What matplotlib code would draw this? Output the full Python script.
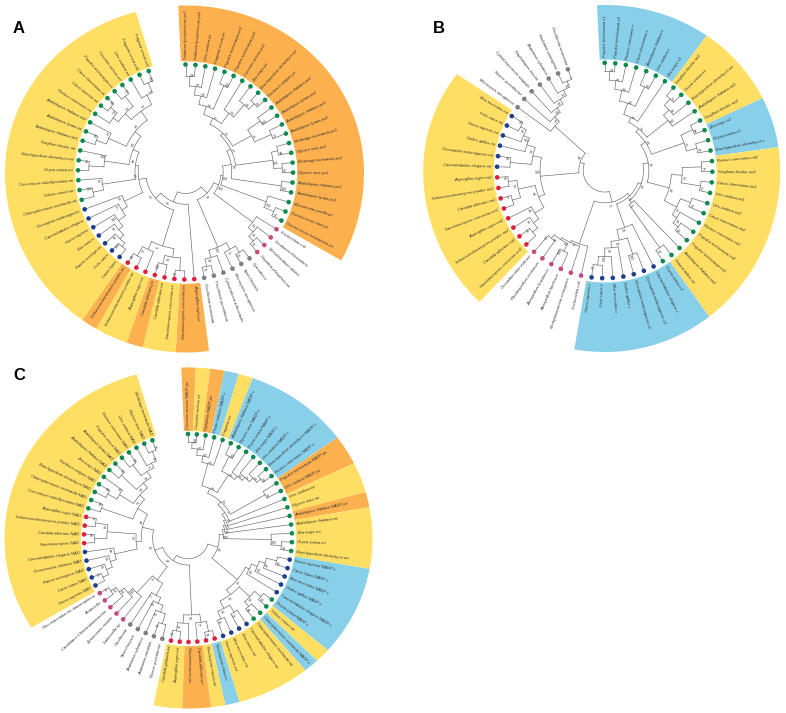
import numpy as np
import matplotlib
matplotlib.use('Agg')
import matplotlib.pyplot as plt

plt.rcParams['font.family'] = ['Liberation Sans', 'DejaVu Sans']

W, H = 786, 713
x = 0  # leaf placeholder in the trees

# Panel A
a_names = ['Solanum lycopersicum px1', 'Solanum lycopersicum px2', 'Vitis vinifera px', 'Fragaria vesca px',
           'Populus trichocarpa px1', 'Populus trichocarpa px2', 'Cucumis sativus px1', 'Zea mays px',
           'Brachypodium distachyon px', 'Hordeum vulgare px', 'Arabidopsis thaliana px2', 'Arabidopsis lyrata px2',
           'Arabidopsis thaliana px3', 'Arabidopsis lyrata px3', 'Medicago truncatula px1', 'Glycine max px1',
           'Medicago truncatula px2', 'Glycine max px2', 'Arabidopsis thaliana px1', 'Arabidopsis lyrata px1',
           'Micromonas pusilla px', 'Ostreococcus tauri px', 'Ostreococcus lucimarinus px',
           'Escherichia coli', 'Geobacter thiooxidans', 'Mesorhizobium arbiter', 'Hepatica phosphoreum',
           'Cyanothece', 'Synechocystis', 'Microcystis aeruginosa', 'Cylindrotheca arthrocaulis',
           'Prochloron punctiforme', 'Oscillatoria acuminata',
           'Aspergillus niger px', 'Saccharomyces cerevisiae px', 'Saccharomyces cerevisiae mt', 'Candida albicans mt',
           'Candida albicans px', 'Aspergillus niger mt', 'Schizosaccharomyces pombe mt', 'Schizosaccharomyces pombe px',
           'Canis lupus', 'Felis catus', 'Rattus norvegicus', 'Bos taurus', 'Homo sapiens',
           'Caenorhabditis elegans', 'Drosophila melanogaster',
           'Chlamydomonas reinhardtii mt', 'Volvox carteri mt', 'Coccomyxa subellipsoidea mt', 'Oryza sativa mt',
           'Brachypodium distachyon mt', 'Sorghum bicolor mt', 'Arabidopsis thaliana mt1', 'Arabidopsis lyrata mt',
           'Arabidopsis thaliana mt2', 'Ricinus communis mt', 'Citrus sinensis mt', 'Citrus clementina mt',
           'Populus trichocarpa mt', 'Cucumis sativus mt', 'Vitis vinifera mt', 'Fragaria vesca mt2', 'Fragaria vesca mt1']
a_dots = [('green', 23), ('pink', 4), ('grey', 6), ('red', 8), ('blue', 7), ('green', 17)]
a_bands = [('orange', 23), (None, 10), ('orange', 2), ('yellow', 2), ('orange', 1), ('yellow', 2), ('orange', 1), ('yellow', 24)]
a_top = (.5, 75,
         (.56, 77, (.64, 41, (.72, 44, (.8, 83, (.89, 92, x, x), x), x), (.88, 100, x, x)), (.68, 38, x, (.83, 98, x, (.9, 93, x, x)))),
         (.7, 75, (.84, 100, x, x), (.87, 72, x, x)))
a_plants = (.35, 100,
            (.43, 94, (.47, 73, a_top, (.82, 100, (.88, 96, x, x), (.9, 45, x, x))), (.9, 100, x, x)),
            (.8, 100, x, (.9, 93, x, x)))
a_pink = (.78, 98, x, (.84, 41, x, (.9, 98, x, x)))
a_grey = (.76, 100, (.83, 31, (.9, 25, x, x), x), (.83, 90, x, (.9, 85, x, x)))
a_fungi = (.72, 8, (.8, 55, (.92, 52, x, x), (.88, 100, x, x)), (.8, 31, x, (.9, 68, x, x)))
a_blue = (.63, 98, (.69, 77, (.77, 100, (.82, 90, (.87, 50, (.91, 100, x, x), x), x), x), x), x)
a_mono = (.76, 100, (.9, 25, x, x), x)
a_arab = (.78, 75, (.88, 50, x, x), x)
a_rest = (.7, 36, (.78, 12, (.84, 52, x, (.92, 50, x, x)), (.9, 63, x, x)), (.8, 4, x, (.9, 100, x, x)))
a_green = (.47, 96, (.78, 95, (.88, 100, x, x), x), (.53, 62, a_mono, (.6, 56, a_arab, a_rest)))
a_tree = (.2, None,
          (.28, 98, (.33, 100, a_plants, a_pink), a_grey),
          (.3, 70, x, (.37, 91, a_fungi, (.44, 63, a_blue, a_green))))

# Panel B
b_names = ['Populus trichocarpa c1', 'Populus trichocarpa c2', 'Ricinus communis c', 'Citrus clementina c',
           'Arabidopsis thaliana c', 'Vitis vinifera c', 'Zea mays c1', 'Sorghum bicolor mt1', 'Oryza sativa mt',
           'Brachypodium distachyon mt', 'Arabidopsis thaliana mt1', 'Sorghum bicolor mt2', 'Zea mays c2',
           'Oryza sativa c1', 'Brachypodium distachyon c', 'Ricinus communis mt2', 'Sorghum bicolor mt3',
           'Citrus clementina mt1', 'Vitis vinifera mt1', 'Vitis vinifera mt2', 'Citrus clementina mt2',
           'Ricinus communis mt1', 'Populus trichocarpa mt2', 'Populus trichocarpa mt1', 'Arabidopsis thaliana mt2',
           'Setaria italica mt', 'Oryza sativa c3', 'Caenorhabditis elegans c', 'Drosophila melanogaster c2',
           'Drosophila melanogaster c1', 'Gallus gallus c', 'Mus musculus c', 'Felis catus c', 'Homo sapiens c',
           'Escherichia coli', 'Methylobacterium extorquens', 'Azospirillum lipoferum', 'Azospirillum brasilense',
           'Rhodospirillum centenum', 'Oceanibaculum indicum',
           'Saccharomyces cerevisiae mt2', 'Candida albicans mt2', 'Schizosaccharomyces pombe mt2', 'Aspergillus niger mt2',
           'Saccharomyces cerevisiae mt1', 'Candida albicans mt1', 'Schizosaccharomyces pombe mt1', 'Aspergillus niger mt1',
           'Caenorhabditis elegans mt', 'Drosophila melanogaster mt', 'Gallus gallus mt', 'Homo sapiens mt',
           'Felis catus mt', 'Mus musculus mt',
           'Microcystis aeruginosa', 'Nostoc punctiforme', 'Cylindrospermum stagnale', 'Raphidiopsis brookii',
           'Anabaena cylindrica', 'Nodularia spumigena', 'Oscillatoria acuminata']
b_dots = [('green', 27), ('blue', 7), ('pink', 6), ('red', 8), ('blue', 6), ('grey', 7)]
b_bands = [('sky', 7), ('yellow', 5), ('sky', 3), ('yellow', 11), ('sky', 8), (None, 6), ('yellow', 14), (None, 7)]
b_c1 = (.55, 61, (.66, 88, (.76, 44, (.84, 78, (.92, 86, x, x), x), x), (.86, 88, x, x)), x)
b_m1 = (.75, 100, (.82, 50, (.9, 97, x, x), x), x)
b_c2 = (.46, 24, (.5, 67, b_c1, b_m1), (.78, 73, (.9, 96, x, x), (.88, 98, x, x)))
b_m2 = (.62, 50, (.72, 47, (.9, 37, x, x), (.9, 35, x, x)), (.75, 31, (.85, 42, x, x), (.8, 50, x, (.86, 62, x, x))))
b_p1 = (.41, 50, b_c2, b_m2)
b_b1 = (.36, 86, b_p1, (.39, 15, x, (.88, 82, x, x)))
b_blue = (.56, 89, x, (.66, 82, (.82, 100, x, x), (.72, 88, x, (.8, 100, x, (.88, 71, x, x)))))
b_pink = (.72, 8, x, (.74, 34, x, (.76, 88, (.84, 100, x, x), (.8, 97, x, x))))
b_r2 = (.76, 50, (.82, 86, (.88, 55, x, x), x), x)
b_r1 = (.82, 22, (.9, 8, x, x), (.9, 40, x, x))
b_blue2 = (.68, 80, (.88, 60, x, x), (.76, 100, x, (.82, 98, x, (.88, 90, x, x))))
b_mt = (.6, 100, (.66, 96, b_r2, b_r1), b_blue2)
b_grey = (.62, 55, x, (.68, 84, x, (.73, 18, x, (.78, 12, x, (.84, 15, x, (.9, 7, x, x))))))
b_tree = (.2, None,
          (.3, 71, (.33, 70, b_b1, b_blue), b_pink),
          (.24, 60, b_mt, b_grey))

# Panel C
c_names = ['Cucumis sativus NADP px', 'Cucumis sativus cz', 'Vignathus NADP px', 'Pisum sativum NADP c',
           'Fragaria mt', 'Arabidopsis thaliana NADP c', 'Glycine max NADP c', 'Oryza sativa NADP c', 'Zea mays NADP c',
           'Vitis vinifera NADP c', 'Brachypodium distachyon NADP c', 'Ricinus communis NADP c',
           'Populus trichocarpa NADP px', 'Vitis vinifera NADP px', 'Vitis vinifera mt', 'Glycine max mt',
           'Arabidopsis thaliana NADP px', 'Arabidopsis thaliana mt', 'Zea mays mt', 'Oryza sativa mt',
           'Brachypodium distachyon mt', 'Homo sapiens NADP c', 'Canis lupus NADP c', 'Mus musculus NADP c',
           'Gallus gallus NADP c', 'Caenorhabditis elegans NADP c', 'Oryza sativa NADP c', 'Volvox carteri mt',
           'Chlamydomonas reinhardtii NADP c', 'Chlamydomonas reinhardtii mt', 'Caenorhabditis elegans mt',
           'Bos taurus mt', 'Mus musculus mt', 'Homo sapiens mt', 'Neurospora crassa c', 'Neurospora crassa mt',
           'Candida albicans px', 'Saccharomyces px', 'Aspergillus niger mt', 'Candida glabrata mt',
           'Nostoc punctiforme', 'Anabaena variabilis', 'Anabaena cylindrica', 'Synechocystis', 'Oscillatoria',
           'Salmonella sp', 'Zymomonas mobilis', 'Candidatus Chloracidobacterium', 'Acidocella',
           'Gluconacetobacter diazotrophicus',
           'Homo sapiens NAD', 'Canis lupus NAD', 'Rattus norvegicus NAD', 'Oreochromis niloticus NAD',
           'Caenorhabditis elegans NAD', 'Saccharomyces NAD', 'Candida albicans NAD',
           'Schizosaccharomyces pombe NAD', 'Aspergillus niger NAD',
           'Coccomyxa subellipsoidea NAD', 'Chlamydomonas reinhardtii NAD', 'Brachypodium distachyon NAD',
           'Hordeum vulgare NAD', 'Zea mays NAD', 'Arabidopsis thaliana NAD', 'Arabidopsis lyrata NAD',
           'Populus vesca NAD', 'Ricinus communis NAD', 'Vitis vinifera NAD', 'Glycine max NAD', 'Medicago truncatula NAD']
c_dots = [('green', 21), ('blue', 5), ('green', 4), ('blue', 4), ('red', 6), ('grey', 5), ('pink', 5),
          ('blue', 5), ('red', 4), ('green', 12)]
c_bands = [('orange', 1), ('yellow', 1), ('orange', 1), ('sky', 1), ('yellow', 1), ('sky', 7), ('orange', 2),
           ('yellow', 2), ('orange', 1), ('yellow', 4), ('sky', 6), ('yellow', 1), ('sky', 1), ('yellow', 5),
           ('sky', 1), ('yellow', 1), ('orange', 2), ('yellow', 2), (None, 10), ('yellow', 21)]
c_t1 = (.74, 25, (.8, 85, (.86, 75, (.92, 100, x, x), x), x), x)
c_t2 = (.72, 52, (.88, 100, x, x), (.76, 60, x, (.8, 97, x, (.85, 98, x, (.9, 45, x, x)))))
c_t = (.52, 21, c_t1, c_t2)
c_t8 = (.34, 100, (.36, 88, (.38, 71, (.4, 24, (.43, 7, (.47, 37, c_t, (.85, 87, x, x)), x), x), x), x),
        (.8, 100, x, (.9, 90, x, x)))
c_b = (.66, 90, (.72, 84, (.78, 50, (.88, 88, x, x), x), x), x)
c_gm = (.68, 20, (.82, 58, (.9, 94, x, x), (.88, 66, x, x)), (.76, 41, (.84, 30, x, x), (.84, 15, x, x)))
c_g = (.62, 45, c_b, c_gm)
c_reds = (.74, 58, (.82, 77, (.92, 58, x, x), x), (.82, 42, x, (.9, 40, x, x)))
c_grey = (.63, 17, (.69, 18, (.76, 15, (.86, 81, x, x), x), x), x)
c_pink = (.72, 100, x, (.78, 28, x, (.84, 14, x, (.9, 32, x, x))))
c_blue = (.72, 96, (.78, 33, (.84, 16, (.9, 13, x, x), x), x), x)
c_red2 = (.78, 48, (.9, 88, x, x), (.9, 75, x, x))
c_green = (.56, 97, (.88, 92, x, x),
           (.62, 55, (.78, 79, (.88, 94, x, x), x),
            (.68, 18, (.88, 93, x, x), (.75, 6, (.88, 94, x, x), (.8, 61, x, (.9, 78, x, x))))))
c_left = (.45, 66, (.5, 36, c_blue, c_red2), c_green)
c_tree = (.2, None,
          (.3, 88, c_t8, c_g),
          (.26, 58, c_reds, (.34, 85, (.5, 8, c_grey, c_pink), c_left)))

palette = {'orange': '#fcb04e', 'yellow': '#ffdf63', 'sky': '#88cfe9',
           'green': '#0e8a4c', 'blue': '#1d3f8f', 'red': '#de1f3e', 'pink': '#c64a82', 'grey': '#7f7f7f'}

# letter, centre x, centre y, leaf circle radius, rim radius (right, top, left, bottom), all in pixels
panels = [
    ('A', 185.5, 172.0, 107.5, (178, 167, 181, 180), a_names, a_dots, a_bands, a_tree, (13, 33)),
    ('B', 604.7, 170.5, 107.7, (175, 166, 182, 181), b_names, b_dots, b_bands, b_tree, (433, 33)),
    ('C', 188.0, 538.0, 104.0, (184, 171, 184, 170), c_names, c_dots, c_bands, c_tree, (13, 380)),
]

HALF = 195


def expand(runs):
    out = []
    for name, n in runs:
        out += [name] * n
    return out


def draw_tree(ax, node, thetas, counter):
    # leaf: next theta on the circle, node: arc over the children plus a radial stem to each
    if node == x:
        t = thetas[counter[0]]
        counter[0] += 1
        return t, 1.0
    r, support = node[0], node[1]
    kids = [draw_tree(ax, child, thetas, counter) for child in node[2:]]
    t0, t1 = kids[0][0], kids[-1][0]
    arc = np.linspace(t0, t1, 40)
    ax.plot(arc, np.full(40, r), color='#666666', lw=0.45, solid_capstyle='round')
    for kt, kr in kids:
        ax.plot([kt, kt], [r, kr], color='#666666', lw=0.45)
    mid = (t0 + t1) / 2
    if support is not None:
        deg = np.degrees(mid)
        rot = deg if np.cos(mid) >= 0 else deg + 180
        ax.text(mid - 0.03 / r, r + 0.025, str(support), fontsize=2.5, color='#444444',
                rotation=rot, rotation_mode='anchor', ha='center', va='center')
    return mid, r


fig = plt.figure(figsize=(W / 100, H / 100), dpi=100)

for letter, cx, cy, rad, rim, names, dots, bands, tree, pos in panels:
    ax = fig.add_axes([(cx - HALF) / W, 1 - (cy + HALF) / H, 2 * HALF / W, 2 * HALF / H], projection='polar')
    ax.set_axis_off()
    ax.patch.set_alpha(0)
    ax.set_ylim(0, HALF / rad)

    n = len(names)
    step = 340.0 / (n - 1)
    thetas = np.radians(90 - step * np.arange(n))
    half = np.radians(step / 2)

    start = 0
    for colour, count in bands:
        if colour is not None:
            th = np.linspace(thetas[start] + half, thetas[start + count - 1] - half, 60)
            c, s = np.cos(th), np.sin(th)
            outer = (rim[0] * np.clip(c, 0, 1) ** 2 + rim[2] * np.clip(-c, 0, 1) ** 2
                     + rim[1] * np.clip(s, 0, 1) ** 2 + rim[3] * np.clip(-s, 0, 1) ** 2) / rad
            ax.fill_between(th, 1.035, outer, color=palette[colour], lw=0, zorder=1)
        start += count

    counter = [0]
    draw_tree(ax, tree, thetas, counter)
    assert counter[0] == n, (letter, counter[0], n)

    ax.scatter(thetas, np.ones(n), s=11, c=[palette[d] for d in expand(dots)], linewidths=0, zorder=4)

    for t, name in zip(thetas, names):
        deg = np.degrees(t)
        if np.cos(t) > -1e-6:
            ax.text(t, 1.05, name, fontsize=3.0, style='italic', color='#333333', rotation=deg,
                    rotation_mode='anchor', ha='left', va='center', zorder=5)
        else:
            ax.text(t, 1.05, name, fontsize=3.0, style='italic', color='#333333', rotation=deg + 180,
                    rotation_mode='anchor', ha='right', va='center', zorder=5)

    fig.text(pos[0] / W, 1 - pos[1] / H, letter, fontsize=12, fontweight='bold', color='black', ha='left', va='baseline')

fig.savefig('out.png', dpi=100)
